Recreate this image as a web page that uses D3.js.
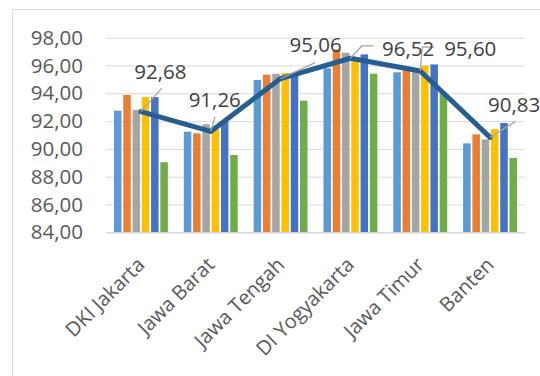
<!DOCTYPE html>
<html>
<head>
<meta charset="utf-8">
<script src="https://cdn.jsdelivr.net/npm/d3@7"></script>
<style>
  html, body { margin: 0; padding: 0; background: #fff; }
  svg { display: block; }
</style>
</head>
<body>
<svg id="chart" width="540" height="376"></svg>
<script>
// ---- data ----
const categories = ["DKI Jakarta", "Jawa Barat", "Jawa Tengah", "DI Yogyakarta", "Jawa Timur", "Banten"];
const seriesNames = ["Seri 1", "Seri 2", "Seri 3", "Seri 4", "Seri 5", "Seri 6"];
const series1 = [92.75, 91.24, 94.96, 95.80, 95.51, 90.40];
const series2 = [93.88, 91.12, 95.34, 97.15, 95.63, 91.05];
const series3 = [92.80, 91.77, 95.41, 96.92, 95.70, 90.69];
const series4 = [93.73, 91.65, 95.46, 96.40, 95.99, 91.43];
const series5 = [93.73, 91.98, 95.30, 96.80, 96.08, 91.86];
const series6 = [89.04, 89.56, 93.47, 95.41, 94.00, 89.35];
const lineValues = [92.68, 91.26, 95.06, 96.52, 95.60, 90.83];
const lineLabels = ["92,68", "91,26", "95,06", "96,52", "95,60", "90,83"];
const yTicks = [84, 86, 88, 90, 92, 94, 96, 98];

const barSeries = [series1, series2, series3, series4, series5, series6];
const colors = ["#5B9BD5", "#ED7D31", "#A5A5A5", "#FFC000", "#4472C4", "#70AD47"];

// ---- layout ----
const svg = d3.select("#chart");
const plotLeft = 106, plotRight = 525, plotTop = 37.7, plotBottom = 232.3;

const x0 = d3.scaleBand().domain(categories).range([plotLeft, plotRight]).paddingInner(0).paddingOuter(0);
const x1 = d3.scaleBand().domain(seriesNames).range([0, x0.bandwidth()]).paddingInner(0.19).paddingOuter(0.86);
const y = d3.scaleLinear().domain([84, 98]).range([plotBottom, plotTop]);

const fmt = v => d3.format(".2f")(v).replace(".", ",");

// chart border
svg.append("rect")
  .attr("x", 12.5).attr("y", 9.5).attr("width", 560).attr("height", 400)
  .attr("fill", "none").attr("stroke", "#D9D9D9").attr("stroke-width", 1);

// gridlines + y axis
const yAxis = d3.axisLeft(y).tickValues(yTicks).tickSize(-(plotRight - plotLeft)).tickPadding(23).tickFormat(fmt);
const gy = svg.append("g").attr("transform", `translate(${plotLeft},0)`).call(yAxis);
gy.select(".domain").remove();
gy.selectAll(".tick line").attr("stroke", "#D9D9D9").attr("stroke-width", 1);
gy.selectAll(".tick text")
  .attr("fill", "#595959")
  .style("font-family", "'Open Sans', 'Noto Sans', sans-serif")
  .style("font-size", "20.5px");

// bars
const groups = svg.append("g").selectAll("g")
  .data(categories)
  .join("g")
  .attr("transform", d => `translate(${x0(d)},0)`);

groups.selectAll("rect")
  .data((c, ci) => barSeries.map((s, si) => ({ name: seriesNames[si], v: s[ci], color: colors[si] })))
  .join("rect")
  .attr("x", d => x1(d.name))
  .attr("width", x1.bandwidth())
  .attr("y", d => y(d.v))
  .attr("height", d => y(84) - y(d.v))
  .attr("fill", d => d.color);

// x axis line
const xAxis = d3.axisBottom(x0).tickSize(0).tickFormat("");
const gx = svg.append("g").attr("transform", `translate(0,${plotBottom})`).call(xAxis);
gx.select(".domain").attr("stroke", "#D9D9D9").attr("stroke-width", 1.2);

// x labels rotated
svg.append("g").selectAll("text")
  .data(categories)
  .join("text")
  .attr("transform", d => `translate(${x0(d) + x0.bandwidth() / 2 + 5},266) rotate(-45)`)
  .attr("text-anchor", "end")
  .attr("fill", "#595959")
  .style("font-family", "'Open Sans', 'Noto Sans', sans-serif")
  .style("font-size", "20px")
  .text(d => d);

// line
const pts = categories.map((c, i) => [x0(c) + x0.bandwidth() / 2, y(lineValues[i])]);
svg.append("path")
  .datum(pts)
  .attr("d", d3.line())
  .attr("fill", "none")
  .attr("stroke", "#255E91")
  .attr("stroke-width", 5)
  .attr("stroke-linejoin", "round")
  .attr("stroke-linecap", "round");

// leader lines & labels (layout offsets relative to each point)
const labelOffsets = [[19.5, -32.6], [4, -24.7], [35, -26.3], [57.7, -2.6], [50, -15.4], [24, -25.7]];
const leaderOffsets = [
  [[21, -23.5]],
  [[4.3, -14.5]],
  [[34.5, -16]],
  [[11.4, -12.3], [23, -12.3]],
  [[2, -24], [14, -24]],
  [[25, -15.7]]
];
const leaders = svg.append("g");
pts.forEach((p, i) => {
  const path = [p].concat(leaderOffsets[i].map(o => [p[0] + o[0], p[1] + o[1]]));
  leaders.append("path")
    .attr("d", d3.line()(path))
    .attr("fill", "none")
    .attr("stroke", "#A6A6A6")
    .attr("stroke-width", 1.3);
});

svg.append("g").selectAll("text")
  .data(lineLabels)
  .join("text")
  .attr("x", (d, i) => pts[i][0] + labelOffsets[i][0])
  .attr("y", (d, i) => pts[i][1] + labelOffsets[i][1])
  .attr("text-anchor", "middle")
  .attr("fill", "#404040")
  .style("font-family", "'Open Sans', 'Noto Sans', sans-serif")
  .style("font-size", "20.5px")
  .text(d => d);
</script>
</body>
</html>
